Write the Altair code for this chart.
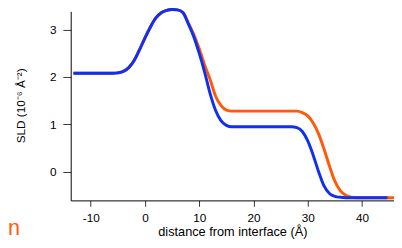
import altair as alt
import pandas as pd

# distance from interface (Å) and SLD (10^-6 Å^-2)
blue_x = [-13.2, -6, -5, -4, -3, -2, -1, 0, 1, 2, 3, 4, 5, 6, 7, 8, 9, 10, 11, 12, 13, 14, 15, 16, 18, 22, 26, 27, 28, 29, 30, 31, 32, 33, 34, 35, 36, 37, 40, 44.7]
blue_y = [2.08, 2.08, 2.09, 2.12, 2.2, 2.35, 2.58, 2.83, 3.06, 3.25, 3.36, 3.41, 3.43, 3.42, 3.36, 3.12, 2.85, 2.5, 2.1, 1.65, 1.3, 1.08, 0.98, 0.95, 0.95, 0.95, 0.95, 0.95, 0.93, 0.85, 0.65, 0.35, 0.0, -0.3, -0.46, -0.52, -0.54, -0.55, -0.55, -0.55]

orange_x = [-13.2, -6, -5, -4, -3, -2, -1, 0, 1, 2, 3, 4, 5, 6, 7, 8, 9, 10, 11, 12, 13, 14, 15, 16, 18, 22, 26, 28, 29, 30, 31, 32, 33, 34, 35, 36, 37, 38, 39, 42, 46]
orange_y = [2.08, 2.08, 2.09, 2.12, 2.2, 2.35, 2.58, 2.83, 3.06, 3.25, 3.36, 3.41, 3.43, 3.42, 3.37, 3.14, 2.9, 2.6, 2.25, 1.95, 1.6, 1.4, 1.3, 1.28, 1.28, 1.28, 1.28, 1.28, 1.25, 1.18, 1.03, 0.8, 0.48, 0.12, -0.2, -0.4, -0.5, -0.54, -0.55, -0.55, -0.55]

x_ticks = [-10, 0, 10, 20, 30, 40]
y_ticks = [0, 1, 2, 3]

BLUE = "#0f2ff2"
ORANGE = "#ff5a0a"

blue_df = pd.DataFrame({"x": blue_x, "y": blue_y})
orange_df = pd.DataFrame({"x": orange_x, "y": orange_y})

xs = alt.Scale(domain=[-13.7, 45.9], nice=False, zero=False)
ys = alt.Scale(domain=[-0.607, 3.39], nice=False, zero=False)

xax = alt.Axis(values=x_ticks, title="distance from interface (Å)", grid=False,
               labelExpr="replace(datum.label, '−', '-')",
               tickSize=6, labelPadding=7, labelFontSize=12, titleFontSize=13,
               titleFontWeight="normal", titleBaseline="alphabetic", titleY=36,
               domainColor="#000", tickColor="#333", labelColor="#000",
               titleColor="#000", labelFont="Liberation Sans", titleFont="Liberation Sans")
yax = alt.Axis(values=y_ticks, title="SLD (10⁻⁶ Å⁻²)", grid=False,
               tickSize=8, labelPadding=7, labelFontSize=12, titleFontSize=12,
               titleFontWeight="normal", titleBaseline="alphabetic", titleX=-47, titleY=96,
               titleAngle=270, domainColor="#000", tickColor="#333", labelColor="#000",
               titleColor="#000", labelFont="Liberation Sans", titleFont="Liberation Sans")

orange = alt.Chart(orange_df).mark_line(color=ORANGE, strokeWidth=3, interpolate="monotone", clip=False).encode(
    x=alt.X("x:Q", scale=xs, axis=xax),
    y=alt.Y("y:Q", scale=ys, axis=yax),
)
blue = alt.Chart(blue_df).mark_line(color=BLUE, strokeWidth=3, interpolate="monotone", clip=False).encode(
    x=alt.X("x:Q", scale=xs),
    y=alt.Y("y:Q", scale=ys),
)
label = alt.Chart(pd.DataFrame({"t": ["n"]})).mark_text(
    color=ORANGE, fontSize=22, font="Liberation Sans", align="left", baseline="alphabetic"
).encode(x=alt.value(-64), y=alt.value(228), text="t:N")

chart = alt.layer(orange, blue, label).properties(
    width=330, height=193,
    autosize=alt.AutoSizeParams(type="none"),
    padding={"left": 64, "top": 1, "right": 0, "bottom": 38},
).configure_view(stroke=None)

chart.save("out.html", embed_options={"renderer": "svg", "actions": False})
